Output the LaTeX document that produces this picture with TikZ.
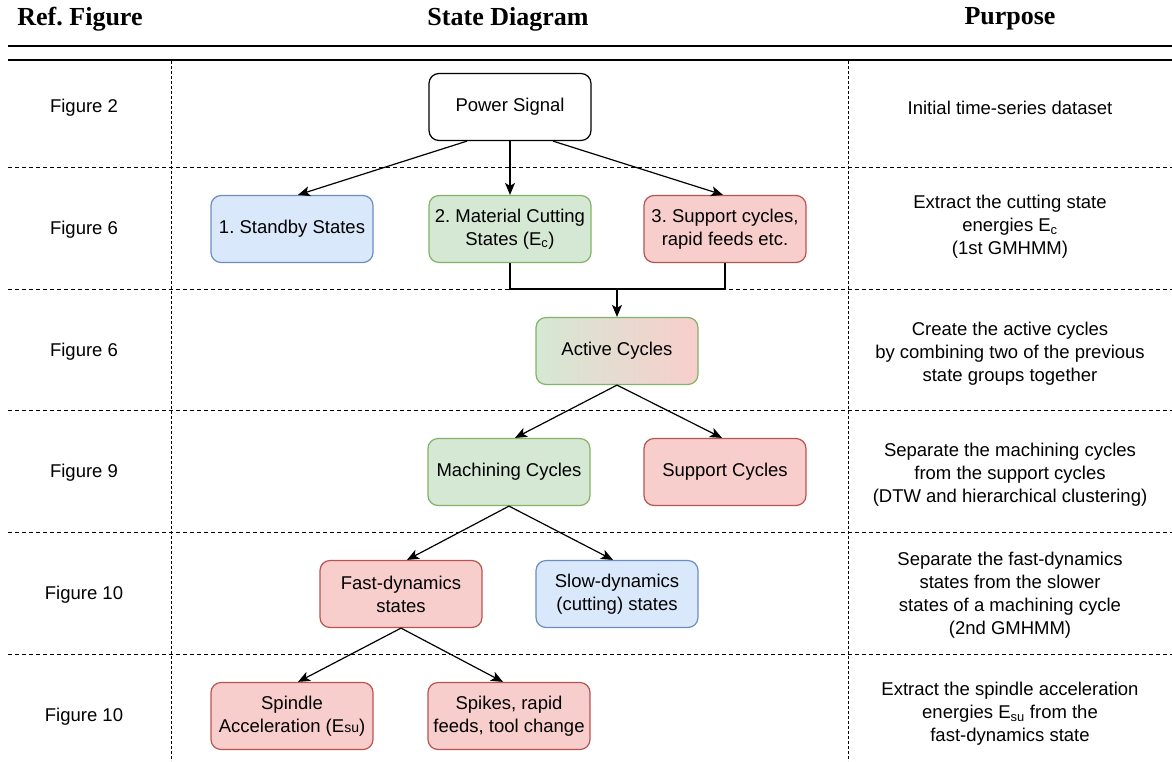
\documentclass[tikz,border=0pt]{standalone}
\usepackage{fontspec}
\setmainfont{Liberation Sans}
\newfontfamily\headfont{Liberation Serif}
\usepackage{xcolor}
\usepackage{tikz}
\usetikzlibrary{arrows.meta,calc,positioning}
\definecolor{blueFill}{HTML}{DAE8FC}
\definecolor{blueDraw}{HTML}{6C8EBF}
\definecolor{greenFill}{HTML}{D5E8D4}
\definecolor{greenDraw}{HTML}{82B366}
\definecolor{redFill}{HTML}{F8CECC}
\definecolor{redDraw}{HTML}{B85450}
\newcommand{\subsm}[1]{\textsubscript{#1}}
\frenchspacing

\begin{document}
\begin{tikzpicture}[
    x=1pt, y=-1pt,
    font=\fontsize{18.5}{23}\selectfont,
    state/.style={rectangle, rounded corners=10pt, draw, line width=1.2pt,
        minimum width=162pt, minimum height=67pt, align=center, inner sep=2pt},
    plainState/.style={state, fill=white, draw=black},
    blueState/.style={state, fill=blueFill, draw=blueDraw},
    greenState/.style={state, fill=greenFill, draw=greenDraw},
    redState/.style={state, fill=redFill, draw=redDraw},
    mixState/.style={state, left color=greenFill, right color=redFill, draw=greenDraw},
    link/.style={draw, line width=1.2pt},
    flow/.style={link, -{Stealth[length=12pt, width=10pt, inset=3pt]}},
    rowsep/.style={draw, line width=1pt, dash pattern=on 4pt off 3pt},
    colsep/.style={draw, line width=1pt, dash pattern=on 3pt off 2pt},
    rule/.style={draw, line width=1.4pt},
    header/.style={font=\headfont\bfseries\fontsize{26}{28}\selectfont},
    refText/.style={align=center},
    purposeText/.style={align=center}]
\useasboundingbox (0,0) rectangle (1172,761);

% table rules
\path[rule] (8,46) -- (1172,46);
\path[rule] (8,60) -- (1172,60);
\foreach \y in {167,289,410,532,654}
    \path[rowsep] (8,\y) -- (1172,\y);
\foreach \x in {171,848}
    \path[colsep] (\x,61) -- (\x,761);

% headers
\node[header] (hRef) at (80,19) {Ref. Figure};
\node[header] (hState) at (508,19) {State Diagram};
\node[header] (hPurpose) at (1010,19) {Purpose};

% reference column
\foreach \y/\txt [count=\i] in {108/Figure 2, 230/Figure 6, 352/Figure 6,
        473/Figure 9, 595/Figure 10, 717/Figure 10}
    \node[refText] (ref\i) at (84,\y) {\txt};

% state diagram
\node[plainState] (power) at (510,107) {Power Signal};
\node[blueState] (standby) at (292,229) {1. Standby States};
\node[greenState] (cutting) at (510,229) {2. Material Cutting\\States (E\subsm{c})};
\node[redState] (support) at (725,229) {3. Support cycles,\\rapid feeds etc.};
\node[mixState] (active) at (617,351) {Active Cycles};
\node[greenState] (machining) at (509,472) {Machining Cycles};
\node[redState] (supportCyc) at (725,472) {Support Cycles};
\node[redState] (fast) at (401,594) {Fast-dynamics\\states};
\node[blueState] (slow) at (617,594) {Slow-dynamics\\(cutting) states};
\node[redState] (spindle) at (292,716) {Spindle\\Acceleration (E{\fontsize{14}{14}\selectfont su})};
\node[redState] (spikes) at (509,716) {Spikes, rapid\\feeds, tool change};

\path[flow] ([xshift=-43pt]power.south) -- ([xshift=6pt]standby.north);
\path[flow] (power.south) -- (cutting.north);
\path[flow] ([xshift=43pt]power.south) -- ([xshift=-2pt]support.north);

\coordinate (merge) at (active.north |- 0,289);
\path[link] (cutting.south) |- (merge) -| (support.south);
\path[flow] (merge) -- (active.north);

\path[flow] (active.south) -- ([xshift=6pt]machining.north);
\path[flow] (active.south) -- ([xshift=-3pt]supportCyc.north);
\path[flow] (machining.south) -- ([xshift=6pt]fast.north);
\path[flow] (machining.south) -- ([xshift=-4pt]slow.north);
\path[flow] (fast.south) -- ([xshift=6pt]spindle.north);
\path[flow] (fast.south) -- ([xshift=-6pt]spikes.north);

% purpose column
\node[purposeText] (p1) at (1010,108) {Initial time-series dataset};
\node[purposeText] (p2) at (1010,227) {Extract the cutting state\\energies E\subsm{c}\\(1st GMHMM)};
\node[purposeText] (p3) at (1010,354) {Create the active cycles\\by combining two of the previous\\state groups together};
\node[purposeText] (p4) at (1010,475) {Separate the machining cycles\\from the support cycles\\(DTW and hierarchical clustering)};
\node[purposeText] (p5) at (1010,595) {Separate the fast-dynamics\\states from the slower\\states of a machining cycle\\(2nd GMHMM)};
\node[purposeText] (p6) at (1010,714) {Extract the spindle acceleration\\energies E\subsm{su} from the\\fast-dynamics state};

\end{tikzpicture}
\end{document}
